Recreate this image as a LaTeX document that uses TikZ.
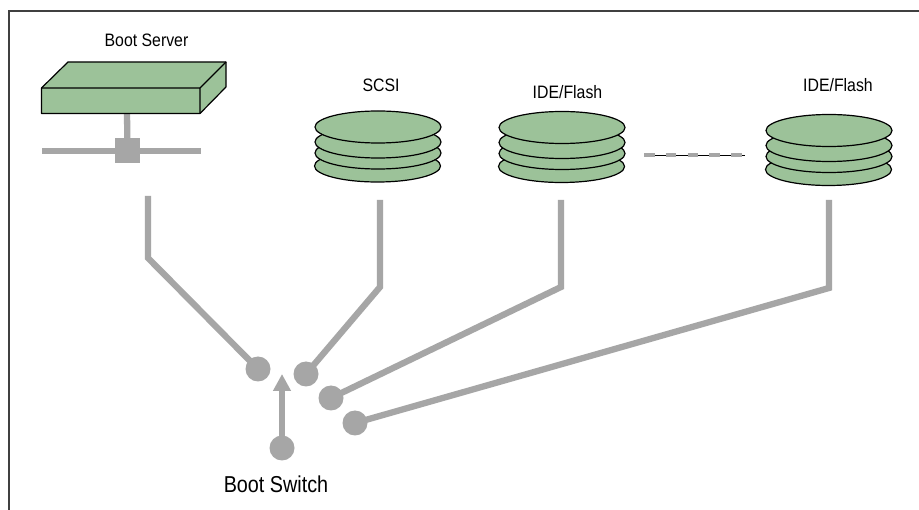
\documentclass[tikz,border=0pt]{standalone}
\usepackage{fontspec}
\setmainfont{Liberation Sans}
\usetikzlibrary{arrows.meta}
\definecolor{wire}{HTML}{A6A6A6}
\definecolor{disk}{HTML}{9CC299}
\definecolor{frameline}{HTML}{404040}
\tikzset{
  x=1pt,y=-1pt,
  wireline/.style={draw=wire,line width=6.3pt,line join=miter},
  port/.style={circle,fill=wire,minimum size=25pt,inner sep=0pt},
  face/.style={fill=disk,draw=black,line width=1.2pt,line join=round},
  platter/.style={fill=disk,draw=black,line width=1.2pt},
  lab/.style={inner sep=0pt,font=\fontsize{18}{20}\selectfont,xscale=0.88,transform shape},
}
\newcommand{\diskstack}[4]{% name, cx, first-y, second spacing
  \path[platter] (#2-0.5,#3+39) ellipse [x radius=63,y radius=16];
  \path[platter] (#2,#3+26) ellipse [x radius=63,y radius=16];
  \path[platter] (#2,#3+15) ellipse [x radius=63,y radius=16];
  \path[platter] (#2,#3) ellipse [x radius=63,y radius=16];
  \coordinate (#1) at (#2,#3);
}
\begin{document}
\begin{tikzpicture}
\useasboundingbox (0,0) rectangle (919,510);
\fill[white] (0,0) rectangle (919,510);
\draw[frameline,line width=1.6pt] (9,510) -- (9,11) -- (919,11);

% server
\coordinate (srvA) at (127,113);
\node[fill=wire,minimum size=25pt,inner sep=0pt] (hub) at (127.5,151) {};
\coordinate (barL) at (42,151);
\coordinate (barR) at (201,151);
\draw[wireline] (srvA) -- (hub);
\draw[wireline] (barL) -- (barR);
\path[face] (41.5,88) -- (68,62) -- (226,62) -- (226,87) -- (200,113.5) -- (41.5,113.5) -- cycle;
\draw[black,line width=1.2pt,line join=round] (41.5,88) -- (200,88) -- (200,113.5) (200,88) -- (226,62);
\node[lab] (lserver) at (146.5,40.5) {Boot Server};

% disks
\diskstack{d1}{378}{127}{15}
\diskstack{d2}{562}{127.5}{15}
\diskstack{d3}{829}{130.5}{15}
\node[lab] (lscsi) at (381,85.5) {SCSI};
\node[lab] (lide1) at (567.5,92) {IDE/Flash};
\node[lab] (lide2) at (838,85) {IDE/Flash};

% dashed link
\coordinate (dashL) at (644,155);
\coordinate (dashR) at (745,155);
\draw[black,line width=0.8pt] (dashL) -- (dashR);
\draw[wire,line width=4pt,dash pattern=on 10.5pt off 11.3pt] (dashL) -- (dashR);

% ports
\node[port] (p1) at (258,369) {};
\node[port] (p2) at (306,374) {};
\node[port] (p3) at (331,398) {};
\node[port] (p4) at (355,423) {};
\node[port] (sw) at (282,448) {};

% wires
\coordinate (a1) at (148,196); \coordinate (b1) at (148,258);
\coordinate (a2) at (380,200); \coordinate (b2) at (380,287);
\coordinate (a3) at (561,200); \coordinate (b3) at (561,287);
\coordinate (a4) at (829,200); \coordinate (b4) at (829,288);
\draw[wireline] (a1) -- (b1) -- (p1.center);
\draw[wireline] (a2) -- (b2) -- (p2.center);
\draw[wireline] (a3) -- (b3) -- (p3.center);
\draw[wireline] (a4) -- (b4) -- (p4.center);

% switch arrow
\coordinate (tip) at (282,374);
\draw[wire,line width=6pt,-{Triangle[length=17pt,width=17pt]}] (sw.center) -- (tip);

\node[inner sep=0pt,font=\fontsize{23}{26}\selectfont,xscale=0.86,transform shape] (lswitch) at (276,484) {Boot Switch};
\end{tikzpicture}
\end{document}
